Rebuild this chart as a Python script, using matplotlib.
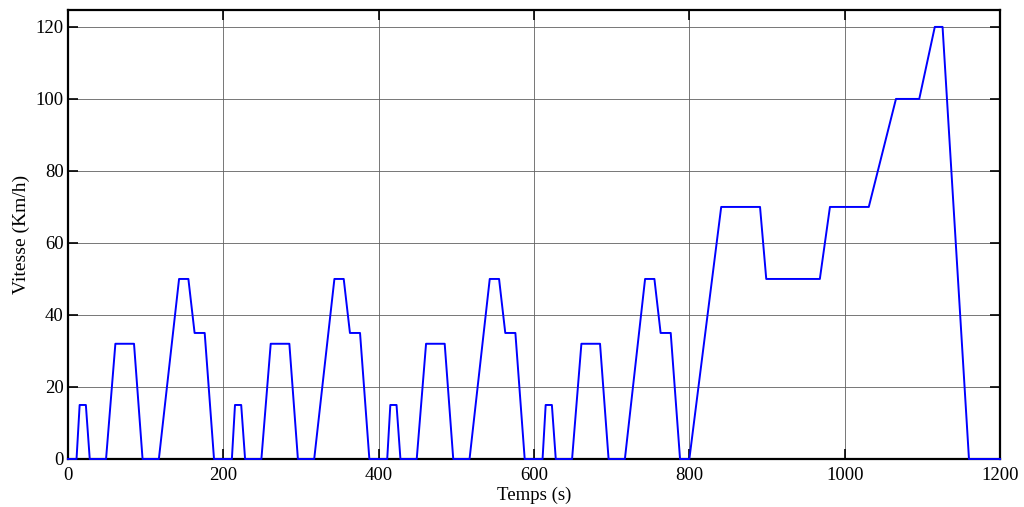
import matplotlib
matplotlib.use('Agg')
from matplotlib import pyplot as plt

# NEDC cycle: 4 x ECE-15 urban cycles (200 s each) followed by the EUDC part
temps = [0, 11, 15, 23, 28, 49, 61, 85, 96, 117, 143, 155, 163, 176, 188,
         211, 215, 223, 228, 249, 261, 285, 296, 317, 343, 355, 363, 376, 388,
         411, 415, 423, 428, 449, 461, 485, 496, 517, 543, 555, 563, 576, 588,
         611, 615, 623, 628, 649, 661, 685, 696, 717, 743, 755, 763, 776, 788,
         800, 841, 891, 899, 968, 981, 1031, 1066, 1096, 1116, 1126, 1160, 1200]
vitesse = [0, 0, 15, 15, 0, 0, 32, 32, 0, 0, 50, 50, 35, 35, 0,
           0, 15, 15, 0, 0, 32, 32, 0, 0, 50, 50, 35, 35, 0,
           0, 15, 15, 0, 0, 32, 32, 0, 0, 50, 50, 35, 35, 0,
           0, 15, 15, 0, 0, 32, 32, 0, 0, 50, 50, 35, 35, 0,
           0, 70, 70, 50, 50, 70, 70, 100, 100, 120, 120, 0, 0]

x_ticks = [0, 200, 400, 600, 800, 1000, 1200]
y_ticks = [0, 20, 40, 60, 80, 100, 120]

plt.rcParams['font.family'] = ['Liberation Serif', 'DejaVu Serif']

fig = plt.figure(figsize=(10.24, 5.07), dpi=100)
ax = fig.add_axes([0.0664, 0.0947, 0.9102, 0.8856])
ax.plot(temps, vitesse, color='#0000ff', linewidth=1.4, zorder=5, clip_on=False)

ax.set_xlim(0, 1200)
ax.set_ylim(0, 124.7)
ax.set_xticks(x_ticks)
ax.set_yticks(y_ticks)
ax.grid(True, color='#606060', linewidth=0.6)
ax.tick_params(direction='in', length=7, width=1.2, top=True, right=True,
               labelsize=13.5)
ax.tick_params(axis='x', pad=6)
ax.tick_params(axis='y', pad=3)
for s in ax.spines.values():
    s.set_linewidth(1.6)

ax.set_xlabel('Temps (s)', fontsize=13.5, labelpad=2)
ax.set_ylabel('Vitesse (Km/h)', fontsize=14, labelpad=4)

fig.savefig('out.png', dpi=100)
